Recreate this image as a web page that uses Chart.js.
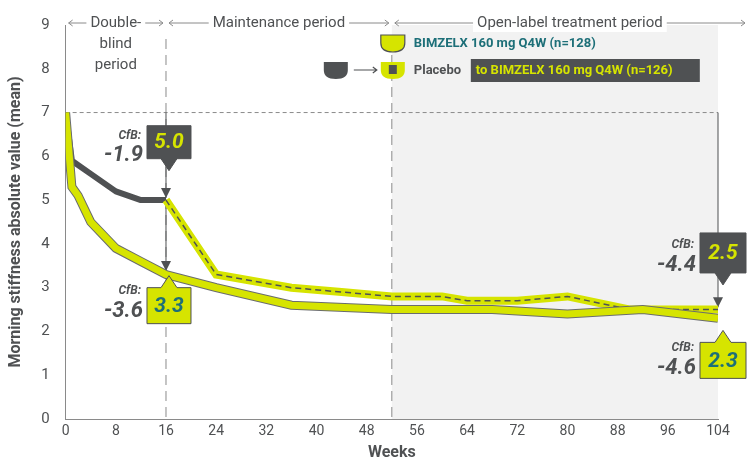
<!DOCTYPE html>
<html><head><meta charset="utf-8">
<script src="https://cdn.jsdelivr.net/npm/chart.js@4/dist/chart.umd.min.js"></script>
<style>body{margin:0;background:#fff}#wrap{width:750px;height:463px}</style>
</head><body><div id="wrap"><canvas id="c"></canvas></div>
<script>
const xTicks = [0, 8, 16, 24, 32, 40, 48, 56, 64, 72, 80, 88, 96, 104];
const bimzelx = [[0,7.0],[1,5.3],[2,5.1],[4,4.5],[8,3.9],[12,3.6],[16,3.3],[24,3.0],[36,2.6],[52,2.5],[68,2.5],[80,2.4],[92,2.5],[104,2.3]];
const placebo = [[0,7.0],[1,5.9],[4,5.6],[8,5.2],[12,5.0],[16,5.0]];
const switched = [[16,5.0],[24,3.3],[36,3.0],[44,2.9],[52,2.8],[60,2.8],[64,2.7],[72,2.7],[80,2.8],[90,2.5],[104,2.5]];
const baseline = 7;

const GREEN = '#d6e400', DARK = '#4f5153', TEAL = '#1d6f78';
const pts = a => a.map(([x, y]) => ({x, y}));

const overlay = {
  id: 'overlay',
  beforeDatasetsDraw(chart) {
    const {ctx, chartArea: a, scales: {x, y}} = chart;
    ctx.save();
    ctx.fillStyle = '#f2f2f2';
    ctx.fillRect(x.getPixelForValue(52), a.top, a.right - x.getPixelForValue(52), a.bottom - a.top);
    ctx.strokeStyle = '#8a8a8a'; ctx.lineWidth = 1;
    ctx.setLineDash([4, 3]);
    ctx.beginPath();
    ctx.moveTo(a.left, y.getPixelForValue(baseline)); ctx.lineTo(a.right, y.getPixelForValue(baseline));
    ctx.stroke();
    ctx.setLineDash([10, 6]);
    [16, 52].forEach(w => {
      ctx.beginPath(); ctx.moveTo(x.getPixelForValue(w), a.top + 14); ctx.lineTo(x.getPixelForValue(w), a.bottom); ctx.stroke();
    });
    ctx.setLineDash([]);
    // vertical callout lines
    ctx.strokeStyle = DARK; ctx.fillStyle = DARK; ctx.lineWidth = 1;
    const vline = (w, v0, v1) => {
      const px = x.getPixelForValue(w), y0 = y.getPixelForValue(v0), y1 = y.getPixelForValue(v1);
      ctx.beginPath(); ctx.moveTo(px, y0); ctx.lineTo(px, y1); ctx.stroke();
      ctx.beginPath(); ctx.moveTo(px - 5, y1 - 10); ctx.lineTo(px + 5, y1 - 10); ctx.lineTo(px, y1); ctx.fill();
    };
    vline(16, 7, 5.05); vline(16, 5, 3.38); vline(104, 7, 2.55);
    ctx.restore();
  },
  afterDatasetsDraw(chart) {
    const {ctx, chartArea: a, scales: {x, y}} = chart;
    ctx.save();
    // period headers
    ctx.font = '15px Roboto'; ctx.fillStyle = DARK; ctx.textAlign = 'center'; ctx.textBaseline = 'middle';
    ctx.strokeStyle = '#8a8a8a'; ctx.lineWidth = 1;
    const ty = a.top - 2;
    const period = (w0, w1, lines) => {
      const x0 = x.getPixelForValue(w0) + 3, x1 = Math.min(x.getPixelForValue(w1) - 3, 745);
      const cx = (x0 + x1) / 2;
      const tw = Math.max(...lines.map(l => ctx.measureText(l).width));
      ctx.fillStyle = '#fff';
      ctx.fillRect(cx - tw / 2 - 4, ty - 9, tw + 8, 18);
      ctx.fillStyle = DARK;
      lines.forEach((l, i) => ctx.fillText(l, cx, ty + i * 21));
      ctx.beginPath();
      ctx.moveTo(x0, ty); ctx.lineTo(cx - tw / 2 - 4, ty);
      ctx.moveTo(cx + tw / 2 + 4, ty); ctx.lineTo(x1, ty);
      ctx.moveTo(x0 + 4, ty - 3); ctx.lineTo(x0, ty); ctx.lineTo(x0 + 4, ty + 3);
      ctx.moveTo(x1 - 4, ty - 3); ctx.lineTo(x1, ty); ctx.lineTo(x1 - 4, ty + 3);
      ctx.stroke();
    };
    period(0, 16, ['Double-', 'blind', 'period']);
    period(16, 52, ['Maintenance period']);
    period(52, 110, ['Open-label treatment period']);

    // legend
    const lx = x.getPixelForValue(52);
    const cup = (cx, cy, fill, stroke) => {
      ctx.beginPath();
      ctx.moveTo(cx - 12, cy - 8); ctx.lineTo(cx + 12, cy - 8); ctx.lineTo(cx + 12, cy);
      ctx.quadraticCurveTo(cx + 12, cy + 9, cx, cy + 9); ctx.quadraticCurveTo(cx - 12, cy + 9, cx - 12, cy);
      ctx.closePath(); ctx.fillStyle = fill; ctx.fill();
      if (stroke) { ctx.strokeStyle = stroke; ctx.lineWidth = 1.2; ctx.stroke(); }
    };
    cup(lx + 1, 43, GREEN, DARK);
    ctx.font = 'bold 13px Roboto'; ctx.textAlign = 'left';
    ctx.fillStyle = TEAL; ctx.fillText('BIMZELX 160 mg Q4W (n=128)', lx + 22, 44);
    cup(lx - 56, 70, DARK);
    ctx.strokeStyle = DARK; ctx.lineWidth = 1.2; ctx.beginPath();
    ctx.moveTo(lx - 38, 70); ctx.lineTo(lx - 15, 70); ctx.moveTo(lx - 19, 67); ctx.lineTo(lx - 15, 70); ctx.lineTo(lx - 19, 73); ctx.stroke();
    cup(lx + 1, 70, GREEN); ctx.fillStyle = DARK; ctx.fillRect(lx - 3, 65, 8, 9);
    ctx.fillStyle = DARK; ctx.fillText('Placebo', lx + 22, 71);
    ctx.fillRect(lx + 79, 59, 229, 23);
    ctx.fillStyle = GREEN; ctx.fillText('to BIMZELX 160 mg Q4W (n=126)', lx + 84, 71);

    // callout boxes
    const box = (cx, top, w, h, fill, tc, text, pointerDown) => {
      ctx.fillStyle = fill; ctx.strokeStyle = DARK; ctx.lineWidth = 1;
      ctx.beginPath();
      if (pointerDown) {
        ctx.moveTo(cx - w / 2, top); ctx.lineTo(cx + w / 2, top); ctx.lineTo(cx + w / 2, top + h);
        ctx.lineTo(cx + 8, top + h); ctx.lineTo(cx, top + h + 12); ctx.lineTo(cx - 8, top + h); ctx.lineTo(cx - w / 2, top + h);
      } else {
        ctx.moveTo(cx - w / 2, top); ctx.lineTo(cx - 8, top); ctx.lineTo(cx, top - 12); ctx.lineTo(cx + 8, top);
        ctx.lineTo(cx + w / 2, top); ctx.lineTo(cx + w / 2, top + h); ctx.lineTo(cx - w / 2, top + h);
      }
      ctx.closePath(); ctx.fill(); ctx.stroke();
      ctx.fillStyle = tc; ctx.font = 'italic bold 21px Roboto'; ctx.textAlign = 'center';
      ctx.fillText(text, cx, top + h / 2 + 1);
    };
    const cfb = (rx, cy, val) => {
      ctx.fillStyle = DARK; ctx.textAlign = 'right';
      ctx.font = 'italic bold 12px Roboto'; ctx.fillText('CfB:', rx - 2, cy - 14);
      ctx.font = 'italic bold 22px Roboto'; ctx.fillText(val, rx, cy + 6);
    };
    const p16 = x.getPixelForValue(16), p104 = x.getPixelForValue(104);
    box(p16 + 3, y.getPixelForValue(6.7), 44, 33, DARK, GREEN, '5.0', true);
    cfb(p16 - 23, y.getPixelForValue(6.15), '-1.9');
    box(p16 + 3, y.getPixelForValue(3.0), 44, 36, GREEN, TEAL, '3.3', false);
    cfb(p16 - 23, y.getPixelForValue(2.6), '-3.6');
    box(p104 + 5, y.getPixelForValue(4.25), 46, 40, DARK, GREEN, '2.5', true);
    cfb(p104 - 22, y.getPixelForValue(3.65), '-4.4');
    box(p104 + 5, y.getPixelForValue(1.75), 46, 36, GREEN, TEAL, '2.3', false);
    cfb(p104 - 22, y.getPixelForValue(1.3), '-4.6');
    ctx.restore();
  }
};

// Chart.js paints dataset 0 last, so the top layer comes first here
new Chart(document.getElementById('c'), {
  type: 'line',
  data: {
    datasets: [
      {data: pts(bimzelx), borderColor: GREEN, borderWidth: 7, pointRadius: 0},
      {data: pts(bimzelx), borderColor: '#6a6c6e', borderWidth: 9, pointRadius: 0},
      {data: pts(switched), borderColor: DARK, borderWidth: 1.5, borderDash: [6, 4], pointRadius: 0},
      {data: pts(switched), borderColor: GREEN, borderWidth: 8, pointRadius: 0},
      {data: pts(placebo), borderColor: DARK, borderWidth: 6, pointRadius: 0, borderJoinStyle: 'round'}
    ]
  },
  options: {
    responsive: true, maintainAspectRatio: false, animation: false,
    layout: {padding: {top: 12, right: 32, left: 6}},
    plugins: {legend: {display: false}, tooltip: {enabled: false}},
    scales: {
      x: {
        type: 'linear', min: 0, max: 104,
        afterBuildTicks: s => { s.ticks = xTicks.map(v => ({value: v})); },
        grid: {display: false, drawTicks: false},
        border: {color: '#8a8a8a'},
        ticks: {color: DARK, font: {family: 'Roboto', size: 14}, padding: 4},
        title: {display: true, text: 'Weeks', color: DARK, font: {family: 'Roboto', size: 16, weight: 'bold'}, padding: 0}
      },
      y: {
        min: 0, max: 9,
        grid: {display: false, drawTicks: false},
        border: {color: '#8a8a8a'},
        ticks: {stepSize: 1, color: DARK, font: {family: 'Roboto', size: 15}, padding: 16},
        title: {display: true, text: 'Morning stiffness absolute value (mean)', color: DARK, font: {family: 'Roboto', size: 16, weight: 'bold'}, padding: 0}
      }
    }
  },
  plugins: [overlay]
});
</script></body></html>
